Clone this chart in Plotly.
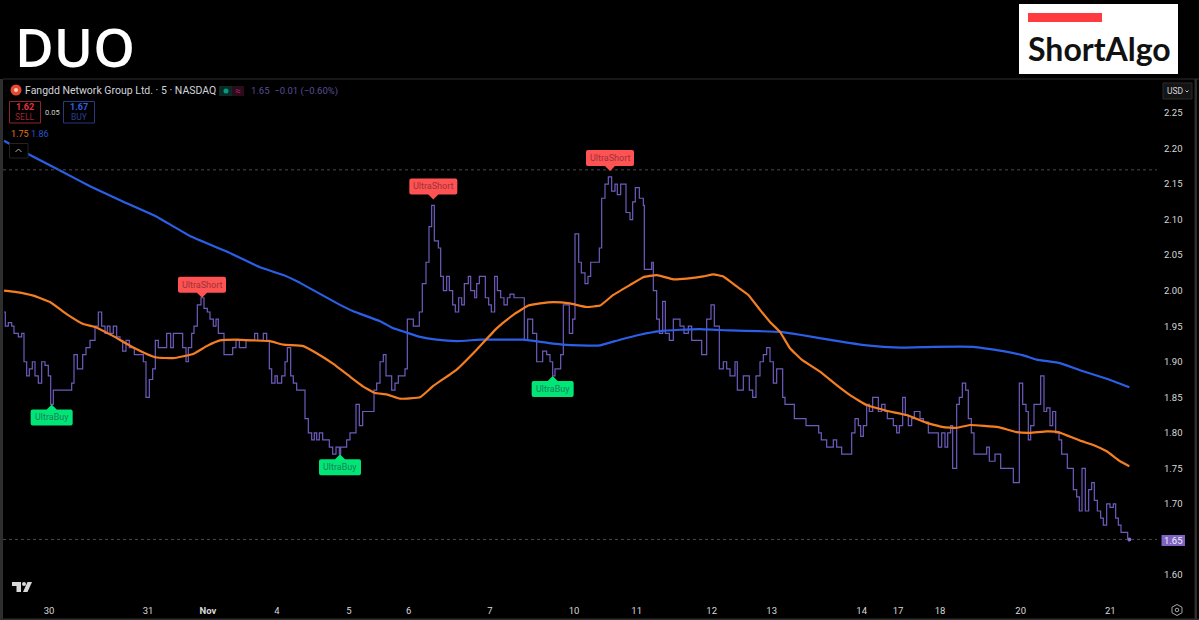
import plotly.graph_objects as go

# step line, one position unit is a third of a screen pixel
early_pos = [12, 16, 25, 35, 42, 55, 65, 72, 80, 88,
             97, 105, 115, 125, 135, 145, 152, 160, 215, 222,
             232, 248, 258, 270, 285, 295, 305, 315, 322, 330,
             340, 350, 360, 368, 378, 388, 403, 430, 438, 448,
             458, 466, 475, 500, 512, 520, 548, 558, 565, 575,
             582, 592, 603, 612, 622, 630, 640, 648, 655, 672,
             698, 708, 718, 738, 764, 773, 790, 800, 808, 815,
             825, 832, 845, 855, 862, 872, 880, 890, 915, 925,
             935, 943, 950, 958, 968, 988, 998, 1008, 1018, 1022,
             1040, 1050, 1068, 1078, 1088, 1122, 1130]
early_price = [1.97, 1.95, 1.955, 1.95, 1.94, 1.935, 1.94, 1.90, 1.88, 1.89,
               1.90, 1.88, 1.87, 1.90, 1.895, 1.88, 1.84, 1.86, 1.87, 1.91,
               1.89, 1.91, 1.92, 1.93, 1.95, 1.97, 1.95, 1.94, 1.95, 1.94,
               1.95, 1.935, 1.93, 1.915, 1.93, 1.92, 1.91, 1.90, 1.85, 1.875,
               1.89, 1.93, 1.92, 1.94, 1.92, 1.94, 1.92, 1.90, 1.92, 1.94,
               1.95, 1.98, 1.99, 1.975, 1.97, 1.96, 1.95, 1.96, 1.94, 1.91,
               1.92, 1.93, 1.92, 1.93, 1.94, 1.93, 1.94, 1.93, 1.89, 1.87,
               1.88, 1.87, 1.88, 1.90, 1.92, 1.88, 1.87, 1.86, 1.82, 1.80,
               1.79, 1.80, 1.79, 1.80, 1.79, 1.78, 1.77, 1.78, 1.77, 1.78,
               1.79, 1.80, 1.84, 1.81, 1.83, 1.86, 1.87]

mid_pos = [1140, 1150, 1158, 1175, 1185, 1195, 1215, 1222, 1240, 1258,
           1267, 1278, 1287, 1295, 1303, 1315, 1322, 1330, 1340, 1348,
           1358, 1366, 1376, 1385, 1393, 1405, 1412, 1424, 1430, 1438,
           1456, 1466, 1474, 1484, 1492, 1502, 1512, 1522, 1530, 1542,
           1573, 1583, 1598, 1610, 1628, 1640, 1650, 1658, 1665, 1682,
           1690, 1708, 1718, 1725, 1736, 1744, 1755, 1764, 1772, 1798,
           1805, 1815, 1825, 1835, 1845, 1852, 1862, 1878, 1890, 1898,
           1906, 1918, 1930, 1933, 1955, 1960, 1970, 1978, 1988, 1996,
           2008, 2020, 2040, 2052, 2065, 2075, 2105, 2120, 2133, 2143,
           2158, 2170, 2180, 2190, 2205, 2212, 2230, 2248, 2258, 2268]
mid_price = [1.90, 1.91, 1.88, 1.86, 1.87, 1.88, 1.89, 1.96, 1.95, 1.97,
             2.01, 2.04, 2.09, 2.12, 2.07, 2.06, 2.02, 2.00, 2.02, 2.00,
             1.98, 1.97, 1.99, 1.98, 2.01, 2.02, 2.00, 1.99, 2.01, 2.02,
             1.99, 1.98, 1.97, 2.02, 2.00, 1.99, 1.98, 1.99, 1.995, 1.99,
             1.93, 1.96, 1.94, 1.90, 1.915, 1.91, 1.90, 1.88, 1.89, 1.91,
             1.98, 1.94, 1.96, 2.08, 2.04, 2.025, 2.01, 2.02, 2.04, 2.06,
             2.13, 2.15, 2.16, 2.14, 2.15, 2.135, 2.15, 2.11, 2.10, 2.125,
             2.145, 2.13, 2.12, 2.03, 2.04, 2.00, 1.96, 1.94, 1.985, 1.94,
             1.93, 1.96, 1.95, 1.94, 1.95, 1.93, 1.91, 1.96, 1.98, 1.95,
             1.89, 1.90, 1.89, 1.88, 1.90, 1.86, 1.88, 1.86, 1.85, 1.88]

late_pos = [2280, 2290, 2300, 2310, 2320, 2330, 2348, 2355, 2383, 2418,
            2456, 2464, 2480, 2500, 2510, 2525, 2555, 2565, 2575, 2582,
            2590, 2600, 2608, 2618, 2635, 2645, 2655, 2662, 2680, 2690,
            2698, 2708, 2716, 2725, 2735, 2743, 2760, 2770, 2785, 2815,
            2825, 2835, 2843, 2852, 2858, 2870, 2878, 2887, 2897, 2905,
            2914, 2922, 2960, 2968, 2985, 3002, 3040, 3058, 3068, 3078,
            3085, 3092, 3102, 3122, 3132, 3140, 3150, 3158, 3167, 3177,
            3185, 3202, 3220, 3230, 3238, 3246, 3256, 3266, 3275, 3283,
            3292, 3302, 3310, 3320, 3330, 3340, 3347, 3355, 3363, 3383, 3388]
late_price = [1.90, 1.91, 1.92, 1.90, 1.87, 1.89, 1.85, 1.84, 1.82, 1.81,
              1.80, 1.79, 1.78, 1.79, 1.78, 1.77, 1.80, 1.82, 1.81, 1.795,
              1.81, 1.84, 1.83, 1.85, 1.83, 1.84, 1.83, 1.82, 1.81, 1.80,
              1.81, 1.85, 1.825, 1.81, 1.82, 1.83, 1.82, 1.815, 1.80, 1.78,
              1.80, 1.78, 1.80, 1.81, 1.75, 1.84, 1.85, 1.87, 1.86, 1.82,
              1.80, 1.77, 1.78, 1.76, 1.77, 1.75, 1.73, 1.87, 1.84, 1.83,
              1.79, 1.81, 1.84, 1.88, 1.83, 1.835, 1.81, 1.83, 1.80, 1.79,
              1.77, 1.75, 1.72, 1.71, 1.69, 1.75, 1.69, 1.72, 1.73, 1.705,
              1.69, 1.68, 1.67, 1.70, 1.695, 1.70, 1.68, 1.67, 1.66, 1.65, 1.65]

step_pos = early_pos + mid_pos + late_pos
step_price = early_price + mid_price + late_price

ema_fast_pos = [12, 50, 100, 150, 200, 250, 285, 340, 400, 440,
                470, 520, 580, 620, 660, 710, 760, 810, 850, 910,
                950, 1000, 1050, 1090, 1125, 1160, 1200, 1260, 1300, 1370,
                1430, 1490, 1540, 1585, 1620, 1660, 1710, 1760, 1800, 1840,
                1890, 1930, 1970, 2020, 2060, 2110, 2140, 2170, 2210, 2245,
                2280, 2310, 2340, 2370, 2405, 2460, 2510, 2550, 2600, 2660,
                2720, 2780, 2830, 2870, 2910, 2995, 3050, 3090, 3140, 3175,
                3240, 3280, 3320, 3360, 3388]
ema_fast = [2.00, 1.998, 1.993, 1.984, 1.967, 1.953, 1.949, 1.936, 1.92, 1.911,
            1.906, 1.905, 1.911, 1.922, 1.93, 1.931, 1.93, 1.929, 1.924, 1.922,
            1.912, 1.897, 1.879, 1.865, 1.856, 1.854, 1.848, 1.85, 1.866, 1.889,
            1.917, 1.947, 1.966, 1.979, 1.982, 1.984, 1.982, 1.977, 1.979, 1.994,
            2.008, 2.019, 2.022, 2.016, 2.017, 2.02, 2.023, 2.02, 2.006, 1.994,
            1.973, 1.956, 1.942, 1.919, 1.903, 1.886, 1.867, 1.853, 1.839, 1.831,
            1.825, 1.814, 1.808, 1.807, 1.811, 1.808, 1.801, 1.80, 1.802, 1.801,
            1.789, 1.783, 1.774, 1.76, 1.753]

ema_slow_pos = [12, 90, 180, 270, 370, 470, 570, 680, 780, 850,
                900, 1020, 1060, 1140, 1180, 1220, 1260, 1310, 1370, 1440,
                1500, 1570, 1620, 1690, 1740, 1800, 1860, 1920, 1980, 2040,
                2100, 2190, 2280, 2340, 2400, 2500, 2600, 2700, 2800, 2920,
                3010, 3070, 3110, 3180, 3240, 3320, 3388]
ema_slow = [2.211, 2.191, 2.169, 2.147, 2.125, 2.104, 2.077, 2.055, 2.033, 2.022,
            2.011, 1.98, 1.971, 1.957, 1.947, 1.941, 1.935, 1.931, 1.929, 1.931,
            1.931, 1.931, 1.928, 1.924, 1.923, 1.923, 1.931, 1.938, 1.943, 1.945,
            1.946, 1.944, 1.943, 1.942, 1.938, 1.93, 1.923, 1.92, 1.921, 1.921,
            1.915, 1.909, 1.903, 1.898, 1.888, 1.876, 1.864]

buy_pos = [155, 1020, 1658]
buy_price = [1.84, 1.77, 1.88]
short_pos = [606, 1300, 1830]
short_price = [1.99, 2.12, 2.16]

price_ticks = [1.60, 1.65, 1.70, 1.75, 1.80, 1.85, 1.90, 1.95,
               2.00, 2.05, 2.10, 2.15, 2.20, 2.25]
date_pos = [147, 444, 624, 831, 1047, 1226, 1470, 1722,
            1910, 2135, 2315, 2585, 2694, 2820, 3062, 3331]
date_labels = ['30', '31', '<b>Nov</b>', '4', '5', '6', '7', '10',
               '11', '12', '13', '14', '17', '18', '20', '21']

last_price = 1.65
high_level = 2.17

W = 1199
H = 620
UI_FONT = 'Roboto'


def px(x):
    return x / W


def py(y):
    return 1 - y / H


def label(x, y, text, color, size, anchor='left', family=UI_FONT, weight=400):
    return dict(x=px(x), y=py(y), xref='paper', yref='paper', text=text, showarrow=False,
                xanchor=anchor, yanchor='middle', borderpad=0,
                font=dict(color=color, size=size, family=family, weight=weight))


def box(x0, y0, x1, y1, fill='rgba(0,0,0,0)', line='rgba(0,0,0,0)', kind='rect', width=1):
    return dict(type=kind, xref='paper', yref='paper', x0=px(x0), x1=px(x1),
                y0=py(y0), y1=py(y1), fillcolor=fill, line=dict(color=line, width=width))


def path(points, fill='rgba(0,0,0,0)', line='rgba(0,0,0,0)', width=1, close=True):
    d = 'M' + ' L'.join(f'{px(a):.5f} {py(b):.5f}' for a, b in points) + (' Z' if close else '')
    return dict(type='path', xref='paper', yref='paper', path=d, fillcolor=fill,
                line=dict(color=line, width=width))


def signal_shape(x, y, half, sign, tip, fill):
    # rounded tag with its pointer, sized in pixels and pinned to the signal's price
    near = sign * (tip + 5)
    far = sign * (tip + 21)
    r = 2 * sign
    d = (f'M 0 {sign * tip} L 5 {near} L {half - 2} {near} Q {half} {near} {half} {near + r} '
         f'L {half} {far - r} Q {half} {far} {half - 2} {far} L {2 - half} {far} '
         f'Q {-half} {far} {-half} {far - r} L {-half} {near + r} Q {-half} {near} {2 - half} {near} '
         f'L -5 {near} Z')
    return dict(type='path', xsizemode='pixel', ysizemode='pixel', xref='x', yref='y',
                xanchor=x, yanchor=y, path=d, fillcolor=fill, line=dict(width=0))


def signal_text(x, y, text, sign, tip, color):
    return dict(x=x, y=y, xref='x', yref='y', text=text, showarrow=False,
                xanchor='center', yanchor='middle', yshift=sign * (tip + 13),
                font=dict(color=color, size=9, family=UI_FONT))


fig = go.Figure()

fig.add_trace(go.Scatter(x=step_pos, y=step_price, mode='lines',
                         line=dict(color='#6f5bbd', width=1.2, shape='hv')))
fig.add_trace(go.Scatter(x=ema_slow_pos, y=ema_slow, mode='lines',
                         line=dict(color='#2a5fe6', width=2.2, shape='spline', smoothing=0.3)))
fig.add_trace(go.Scatter(x=ema_fast_pos, y=ema_fast, mode='lines',
                         line=dict(color='#f57f20', width=2.2, shape='spline', smoothing=0.3)))
fig.add_trace(go.Scatter(x=[step_pos[-1]], y=[last_price], mode='markers',
                         marker=dict(color='#8a6fd1', size=4)))

buy_tip = [0, 0, 0]
short_tip = [0, 6, 6]

shapes = [
    # panel frame
    box(0, 79, 3, 620, fill='#2e2e2e'),
    box(3, 78.5, 1199, 79.5, fill='#2e2e2e'),
    box(3, 618.5, 1199, 620, fill='#2e2e2e'),
    box(1194.5, 79, 1197, 620, fill='#2e2e2e'),
    # levels
    dict(type='line', xref='paper', yref='y', x0=px(3), x1=px(1157), y0=high_level, y1=high_level,
         line=dict(color='#4a4a4a', width=1, dash='dot')),
    dict(type='line', xref='paper', yref='y', x0=px(3), x1=px(1157), y0=last_price, y1=last_price,
         line=dict(color='#4a4a4a', width=1, dash='dot')),
    # logo
    box(1019, 4, 1178, 74, fill='#ffffff'),
    box(1028, 13, 1102, 22, fill='#ff3b40'),
    # header widgets
    box(10.5, 84.5, 21.5, 95.5, fill='#e5492f', kind='circle'),
    box(14, 88, 18, 92, fill='#f6c9bd', kind='circle'),
    box(219, 86, 232, 96, fill='#0c2a24'),
    box(232, 86, 244, 96, fill='#2a0c1c'),
    box(223.5, 88.5, 228.5, 93.5, fill='#089981', kind='circle'),
    box(9.5, 101.5, 40.5, 123, line='#8f2530'),
    box(63.5, 101.5, 94.5, 123, line='#27397f'),
    box(9.5, 143.5, 28, 158, line='#232323', fill='#000000'),
    path([(15.5, 152), (18.5, 149), (21.5, 152)], line='#b0b0b0', close=False),
    box(1163, 83, 1192, 99, fill='#141414', line='#2b2b2b'),
    path([(1185.5, 90.5), (1187, 92), (1188.5, 90.5)], line='#c8c8c8', close=False),
    # last price tag
    box(1161.5, 535, 1185, 546, fill='#7e62c4'),
    # tradingview mark
    path([(12, 582), (21, 582), (21, 592), (16.5, 592), (16.5, 586), (12, 586)], fill='#d8d8d8'),
    box(22, 582, 26, 586, fill='#d8d8d8', kind='circle'),
    path([(27.5, 582), (32, 582), (27.5, 592), (23, 592)], fill='#d8d8d8'),
    # settings gear
    path([(1177, 604.5), (1182, 607.2), (1182, 612.8), (1177, 615.5), (1172, 612.8), (1172, 607.2)],
         line='#a8a8a8'),
    box(1175.2, 608.2, 1178.8, 611.8, line='#a8a8a8', kind='circle'),
]

annotations = [
    label(14, 46, 'DUO', '#ffffff', 53, family='Open Sans', weight=600),
    label(1027, 49, 'ShortAlgo', '#111111', 32, family='Lato', weight=700),
    label(24, 91, 'Fangdd Network Group Ltd. · 5 · NASDAQ', '#d1d4dc', 10.5),
    label(238, 91, '≈', '#b0245a', 10, anchor='center'),
    label(250, 91, '1.65  −0.01 (−0.60%)', '#5d4c96', 9.5),
    label(25, 107, '<b>1.62</b>', '#e5303f', 9, anchor='center'),
    label(25, 117, 'SELL', '#9c2530', 8.5, anchor='center'),
    label(52, 112, '0.05', '#d0d0d0', 7.5, anchor='center'),
    label(79, 107, '<b>1.67</b>', '#2f5fe0', 9, anchor='center'),
    label(79, 117, 'BUY', '#27418f', 8.5, anchor='center'),
    label(9.5, 134, '1.75', '#e0781c', 9),
    label(30, 134, '1.86', '#2a55c8', 9),
    label(1166, 91, 'USD', '#d1d4dc', 8.5),
    label(1173.3, 540.5, '1.65', '#f0f0f0', 9.5, anchor='center'),
]
for p, v, t in zip(buy_pos, buy_price, buy_tip):
    shapes.append(signal_shape(p, v, 21, -1, t, '#00e676'))
    annotations.append(signal_text(p, v, 'UltraBuy', -1, t, '#1a7f5a'))
for p, v, t in zip(short_pos, short_price, short_tip):
    shapes.append(signal_shape(p, v, 24, 1, t, '#ff5252'))
    annotations.append(signal_text(p, v, 'UltraShort', 1, t, '#99343c'))

fig.update_layout(
    width=W,
    height=H,
    margin=dict(l=0, r=0, t=0, b=0),
    paper_bgcolor='#000000',
    plot_bgcolor='#000000',
    showlegend=False,
    shapes=shapes,
    annotations=annotations,
    xaxis=dict(
        domain=[px(3), px(1157)],
        range=[9, 3471],
        tickvals=date_pos,
        ticktext=date_labels,
        showgrid=False,
        zeroline=False,
        showline=False,
        ticks='',
        ticklabelstandoff=6,
        tickfont=dict(color='#d8d8d8', size=9.5, family=UI_FONT),
    ),
    yaxis=dict(
        domain=[py(597), py(80)],
        range=[1.569, 2.2964],
        side='right',
        tickvals=price_ticks,
        tickformat='.2f',
        showgrid=False,
        zeroline=False,
        showline=False,
        ticks='',
        ticklabelstandoff=6,
        tickfont=dict(color='#d8d8d8', size=9.5, family=UI_FONT),
    ),
)

# the page body has a default margin that would push the chart off the window
fig.write_html("out.html", config={'displayModeBar': False},
               post_script="document.body.style.margin='0';")
